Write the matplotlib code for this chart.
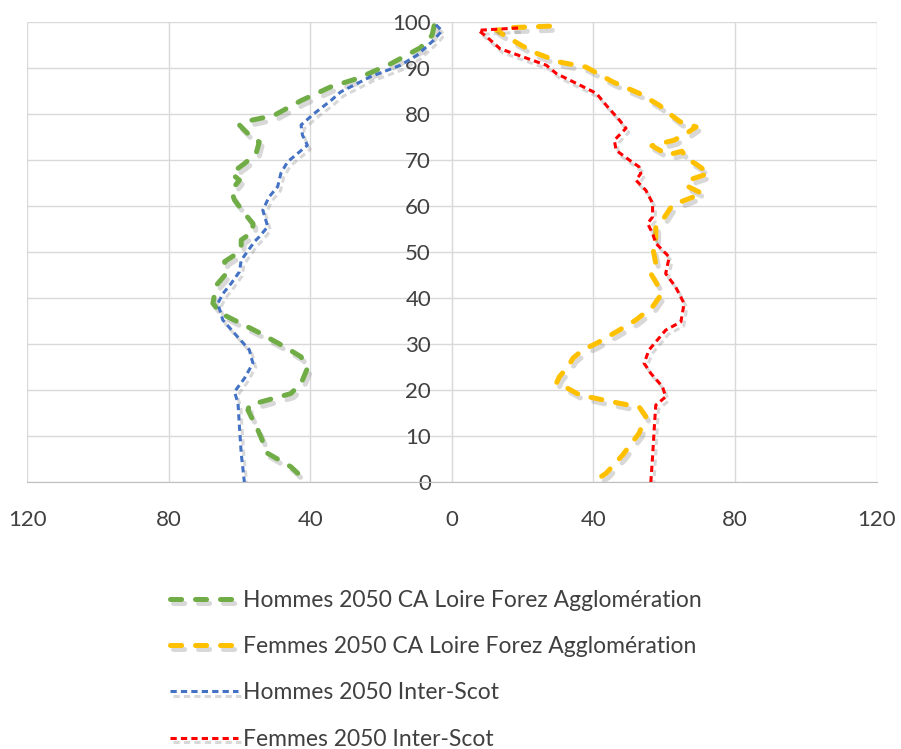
import matplotlib
matplotlib.use('Agg')
import matplotlib.pyplot as plt
import matplotlib.patheffects as pe
from matplotlib.ticker import FuncFormatter

plt.rcParams['font.family'] = ['Lato', 'DejaVu Sans']
plt.rcParams['lines.scale_dashes'] = False

# Hommes 2050 CA Loire Forez Agglomération (valeurs lues, côté gauche)
ages_h_lfa = [99.3, 97.2, 94.5, 91, 87.8, 86, 83, 79.8, 78.4, 77.7, 75.5, 74, 71.5, 69.3,
              67.2, 65.7, 63.5, 61.4, 58.5, 56.3, 54.5, 52.7, 51.2, 49.4, 48, 45.4, 42.9,
              41, 38.9, 36.7, 35.6, 32.7, 29.5, 27.3, 24.8, 21.5, 19.3, 17.9, 16.8, 15.7,
              11.4, 6.3, 3.4, 0]
h_lfa = [5.0, 5.6, 8.9, 17.3, 26.7, 34.2, 42.6, 50.2, 58.6, 60, 57.2, 54.4, 55.3, 58.6,
         62.3, 60, 62.3, 61.4, 58.6, 56.2, 56.2, 59.5, 59.5, 61.4, 64.2, 63.7, 66.5,
         67, 67.5, 65.1, 62.3, 54.8, 47.3, 42.6, 40.8, 42.6, 45.5, 52, 57.2, 57.6,
         54.8, 52, 45.5, 40.8]

# Femmes 2050 CA Loire Forez Agglomération
ages_f_lfa = [99.2, 98.9, 98.3, 96.9, 95, 93.6, 91.4, 90.3, 87.1, 84.6, 82, 80.2, 78.4,
              77.3, 76, 74.4, 73.2, 71.2, 72.0, 70.3, 69.2, 67.2, 66.0, 64.6, 62.8, 60.3,
              57, 55.6, 52, 51.2, 47.6, 45.4, 42.9, 40.7, 38.2, 35.3, 32.7, 30.2, 28.8,
              27, 25.1, 23, 21.5, 20.8, 19, 17.2, 16.4, 14.3, 10.7, 5.9, 2, 0]
f_lfa = [27.6, 17.3, 12.6, 15.5, 19.7, 22.9, 30.4, 37.9, 45.4, 52.9, 58.6, 61.4, 64.5,
         69, 66.5, 62.8, 56.5, 61, 65, 66.5, 69, 72.6, 68, 66, 70.7, 62.3,
         59.5, 57.6, 57.6, 56.7, 57.6, 56.2, 58.1, 59, 56.7, 52, 46.4, 40.8, 37,
         34.2, 32.8, 30.4, 29.5, 31.9, 36.1, 47.3, 52.9, 54.8, 52.9, 48.2, 43.6, 39.8]

# Hommes 2050 Inter-Scot
ages_h_scot = [99.5, 98.2, 96.1, 92.9, 90.7, 88.2, 84.9, 83, 80.2, 77.7, 75.5, 73.3, 71.5,
               69.7, 67.2, 64.3, 62.1, 59.2, 55.6, 53.4, 52.3, 49.8, 48.3, 45.8, 43.3,
               41, 38.9, 35.3, 32.4, 28.8, 25.9, 22.6, 19.7, 17.2, 12.1, 6.3, 0]
h_scot = [4.5, 2.8, 5.2, 9.8, 14.5, 23, 31.4, 34.2, 38.9, 42.6, 42.2, 40.8, 43.6,
          46.4, 48.3, 49.2, 51.6, 53.4, 52, 54.4, 55.8, 58.1, 59.5, 60, 62.3,
          64.7, 66.1, 64.7, 61.4, 57.2, 56.2, 58.6, 61.4, 60.4, 60, 59.5, 58.6]

# Femmes 2050 Inter-Scot
ages_f_scot = [98.8, 98.3, 96.9, 94.3, 90.7, 88.9, 86.4, 84.6, 82, 78.8, 77, 74.4, 72.2,
               70.1, 68.6, 67.2, 65.7, 63.5, 60.7, 57.7, 56.3, 54.1, 52, 49, 45.4, 42.5,
               38.9, 34.9, 33.1, 28.8, 25.9, 23.7, 20.8, 18.6, 16.8, 12.1, 5.6, 0]
f_scot = [18.7, 7.5, 9.8, 13.6, 26.7, 29.5, 36.1, 40.8, 43.6, 47.3, 49.2, 45.9, 46.4,
          50.1, 52.9, 53.4, 52, 54.8, 56.7, 56.7, 55.3, 56.7, 57.6, 61.4, 60.4, 63.2,
          65.6, 64.7, 60.4, 55.7, 54.3, 56.2, 59.5, 60.4, 57.6, 57.2, 56.7, 56.2]

labels = ['Hommes 2050 CA Loire Forez Agglomération',
          'Femmes 2050 CA Loire Forez Agglomération',
          'Hommes 2050 Inter-Scot',
          'Femmes 2050 Inter-Scot']

fig = plt.figure(figsize=(9.01, 7.49), dpi=100)
ax = fig.add_axes([0.030, 0.356, 0.943, 0.614])

shadow = [pe.SimpleLineShadow(offset=(2, -3), shadow_color='#808080', alpha=0.3),
          pe.Normal()]

thick = dict(lw=3.6, dashes=(8, 10), dash_capstyle='round', solid_joinstyle='round',
             path_effects=shadow)
thin = dict(lw=2.2, dashes=(4.5, 3), dash_capstyle='butt', solid_joinstyle='round',
            path_effects=shadow)

ax.plot([-v for v in h_lfa], ages_h_lfa, color='#70AD47', label=labels[0], **thick)
ax.plot(f_lfa, ages_f_lfa, color='#FFC000', label=labels[1], **thick)
ax.plot([-v for v in h_scot], ages_h_scot, color='#4472C4', label=labels[2], **thin)
ax.plot(f_scot, ages_f_scot, color='#FF0000', label=labels[3], **thin)

ax.set_xlim(-120, 120)
ax.set_ylim(0, 100)
ax.set_xticks(range(-120, 121, 40))
ax.set_yticks(range(0, 101, 10))
ax.xaxis.set_major_formatter(FuncFormatter(lambda v, p: f'{abs(v):.0f}'))
ax.grid(True, color='#D9D9D9', lw=1)
ax.set_axisbelow(True)

for s in ['top', 'right']:
    ax.spines[s].set_visible(False)
ax.spines['left'].set_position(('data', 0))
ax.spines['left'].set_color('#D9D9D9')
ax.spines['bottom'].set_color('#BFBFBF')
ax.tick_params(axis='both', length=0, labelsize=16, colors='#404040')
ax.tick_params(axis='x', pad=20)
ax.tick_params(axis='y', pad=15)

fig.legend(loc='upper left', bbox_to_anchor=(170 / 901, 1 - 590 / 749), frameon=False,
           fontsize=16.5, handlelength=2.97, handletextpad=0.22, labelspacing=1.1,
           borderpad=0, borderaxespad=0, labelcolor='#404040')

fig.savefig('out.png', dpi=100)
